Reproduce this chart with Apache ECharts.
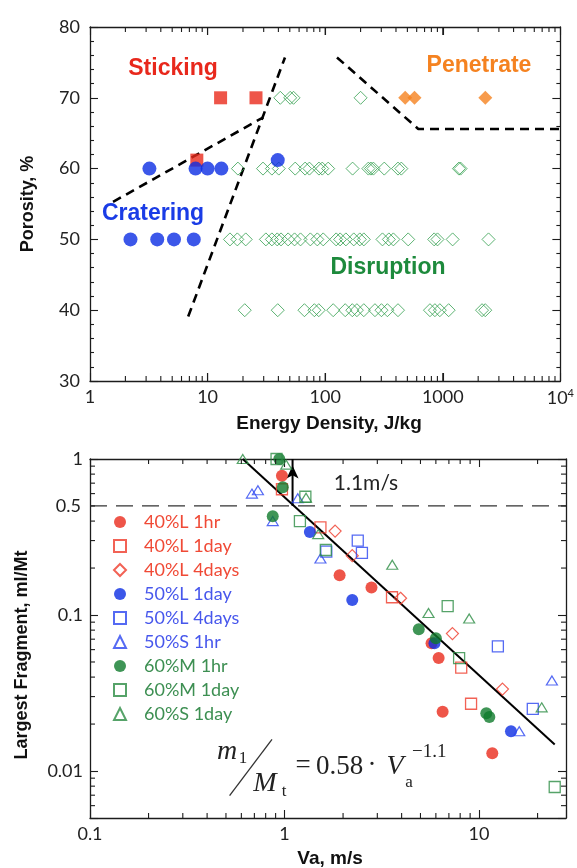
<!DOCTYPE html>
<html>
<head>
<meta charset="utf-8">
<script src="https://cdn.jsdelivr.net/npm/echarts@6/dist/echarts.min.js"></script>
<style>
  html, body { margin: 0; padding: 0; background: #ffffff; }
  #chart { width: 577px; height: 868px; }
</style>
</head>
<body>
<div id="chart"></div>
<script>
// ---------- Upper panel: porosity (%) against energy density (J/kg) ----------
const stickingPts  = [[12.9, 70], [25.8, 70], [8.1, 61.2]];
const crateringPts = [[3.2, 60], [7.9, 60], [10.0, 60], [13.1, 60], [39.5, 61.2],
                      [2.21, 50], [3.73, 50], [5.18, 50], [7.63, 50]];
const penetratePts = [[479, 70], [575, 70], [2300, 70]];
// Disruption runs, one list of energy densities per porosity level
const disrupt70 = [41.5, 50.4, 53.8, 200];
const disrupt60 = [18.1, 29.6, 35.2, 40.3, 55.6, 67.5, 73.4, 88.5, 94.4, 106, 171, 233, 245, 257,
                   318, 416, 444, 1371, 1417];
const disrupt50 = [15.5, 17.9, 21.1, 31.3, 35.2, 39.1, 42.1, 48.4, 54.9, 61.7, 74.8, 85.7, 96.2,
                   124, 134, 150, 175, 197, 213, 307, 348, 380, 508, 845, 902, 1213, 2449];
const disrupt40 = [20.7, 39.5, 66.6, 80.9, 88.2, 117, 148, 170, 186, 213, 265, 301, 338, 416,
                   778, 857, 944, 1122, 2157, 2297];
// Regime boundaries (dashed)
const boundaryCratering = [[1.57, 55.3], [29.8, 67.25]];
const boundarySticking  = [[6.84, 39.1], [45.5, 75.7]];
const boundaryPenetrate = [[126, 75.7], [619, 65.6], [10000, 65.6]];
const porosityTicks = [30, 40, 50, 60, 70, 80];

// ---------- Lower panel: largest fragment ratio against velocity ----------
const seriesNames = ['40%L 1hr', '40%L 1day', '40%L 4days', '50%L 1day', '50%L 4days',
                     '50%S 1hr', '60%M 1hr', '60%M 1day', '60%S 1day'];
const red40L1hr    = [[0.97, 0.78], [1.92, 0.18], [2.8, 0.15], [5.7, 0.066], [6.2, 0.053], [6.5, 0.024], [11.7, 0.013]];
const red40L1day   = [[0.97, 0.64], [1.53, 0.365], [3.57, 0.13], [8.1, 0.046], [9.1, 0.027]];
const red40L4days  = [[1.82, 0.345], [2.23, 0.24], [3.95, 0.128], [7.3, 0.076], [13.2, 0.0335]];
const blue50L1day  = [[1.35, 0.34], [2.23, 0.125], [5.9, 0.066], [14.6, 0.018]];
const blue50L4days = [[1.64, 0.255], [2.38, 0.30], [2.5, 0.25], [12.5, 0.063], [18.9, 0.025]];
const blue50S1hr   = [[0.68, 0.60], [0.73, 0.63], [1.17, 0.56], [0.87, 0.40], [1.53, 0.23], [16.1, 0.018], [23.7, 0.038]];
const green60M1hr  = [[0.94, 1.0], [0.98, 0.66], [0.87, 0.43], [4.9, 0.081], [6.0, 0.071], [10.9, 0.0235], [11.3, 0.0222]];
const green60M1day = [[0.91, 1.0], [1.28, 0.573], [1.2, 0.40], [1.63, 0.261], [6.9, 0.114], [7.9, 0.053], [24.5, 0.0079]];
const green60S1day = [[0.61, 1.0], [1.02, 0.92], [1.29, 0.565], [1.49, 0.33], [3.58, 0.21], [5.5, 0.103], [8.9, 0.095], [21, 0.0256]];
const fitLine      = [[0.61, 1.0], [24.5, 0.0148]];
const thresholdVa  = 1.1;     // arrow position, m/s
const halfLevel    = 0.5;     // dashed reference level

// ---------- Log-axis tick positions ----------
const energyMinor = [];
for (let d = 0; d < 4; d++) for (let k = 2; k <= 9; k++) energyMinor.push(+(k * Math.pow(10, d)).toPrecision(3));
const energyMajor = [10, 100, 1000];
const vaMinor = [];
for (let d = -1; d <= 1; d++) for (let k = 2; k <= 9; k++) { const v = +(k * Math.pow(10, d)).toPrecision(3); if (v < 28) vaMinor.push(v); }
const fragMinor = [];
for (let d = -3; d <= -1; d++) for (let k = 2; k <= 9; k++) { const v = +(k * Math.pow(10, d)).toPrecision(3); if (v > 0.005) fragMinor.push(v); }

const AXIS = '#1c1c1c';
const LABEL_FONT = 'Lato';
const TITLE_FONT = '"Liberation Sans", Arial, sans-serif';
const SERIF = '"Liberation Serif", "Times New Roman", serif';

function powerLabel(v) {
  const l = Math.log10(v);
  if (Math.abs(l - Math.round(l)) > 1e-6) return '';
  const p = Math.round(l);
  if (p === 4) return '{b|10}{s|4}';
  return String(+Math.pow(10, p).toPrecision(1));
}

// Inward ticks drawn on both opposite sides of a frame
function tickRenderer(dir, len) {
  return function (params, api) {
    const cs = params.coordSys;
    const pt = api.coord([api.value(0), api.value(1)]);
    const st = { stroke: AXIS, lineWidth: 1.1 };
    if (dir === 'x') {
      const x = pt[0], yb = cs.y + cs.height, yt = cs.y;
      return { type: 'group', children: [
        { type: 'line', shape: { x1: x, y1: yb, x2: x, y2: yb - len }, style: st },
        { type: 'line', shape: { x1: x, y1: yt, x2: x, y2: yt + len }, style: st }
      ]};
    }
    const y = pt[1], xl = cs.x, xr = cs.x + cs.width;
    return { type: 'group', children: [
      { type: 'line', shape: { x1: xl, y1: y, x2: xl + len, y2: y }, style: st },
      { type: 'line', shape: { x1: xr, y1: y, x2: xr - len, y2: y }, style: st }
    ]};
  };
}
function tickSeries(xi, yi, dir, len, data) {
  return { type: 'custom', xAxisIndex: xi, yAxisIndex: yi, silent: true, clip: false, z: 8,
           renderItem: tickRenderer(dir, len), data: data };
}

function logAxis(grid, pos, min, max, showLabels, split) {
  return {
    type: 'log', logBase: 10, gridIndex: grid, position: pos, min: min, max: max, splitNumber: split,
    axisLine: { show: true, onZero: false, lineStyle: { color: AXIS, width: 1.3 } },
    axisTick: { show: true, inside: true, length: 8, lineStyle: { color: AXIS, width: 1.1 } },
    minorTick: { show: false },
    splitLine: { show: false },
    axisLabel: {
      show: showLabels, formatter: powerLabel, color: '#222', fontFamily: LABEL_FONT, fontSize: 18,
      margin: 7, showMinLabel: true, showMaxLabel: true, hideOverlap: false,
      rich: {
        b: { fontFamily: LABEL_FONT, fontSize: 18, color: '#222' },
        s: { fontFamily: LABEL_FONT, fontSize: 11, color: '#222', padding: [0, 0, 9, 0] }
      }
    }
  };
}

function porosityAxis(pos, showLabels) {
  return {
    type: 'value', gridIndex: 0, position: pos, min: 30, max: 80, interval: 10,
    axisLine: { show: true, onZero: false, lineStyle: { color: AXIS, width: 1.3 } },
    axisTick: { show: true, inside: true, length: 8, lineStyle: { color: AXIS, width: 1.1 } },
    minorTick: { show: true, splitNumber: 5, length: 4, lineStyle: { color: AXIS, width: 1.1 } },
    splitLine: { show: false },
    axisLabel: { show: showLabels, color: '#222', fontFamily: LABEL_FONT, fontSize: 18, margin: 10,
                 formatter: v => porosityTicks.indexOf(v) >= 0 ? String(v) : '' }
  };
}

const hollow = (c, w) => ({ color: 'rgba(0,0,0,0)', borderColor: c, borderWidth: w });

function fragSeries(name, data, symbol, size, style) {
  return { name: name, type: 'scatter', xAxisIndex: 2, yAxisIndex: 2, data: data, symbol: symbol,
           symbolSize: size, itemStyle: style, clip: false, z: 5 };
}

const RED = '#ea2a1c', RED_OPEN = '#ef3b2a';
const BLUE = '#0b2de4', BLUE_OPEN = '#2a45f0';
const GREEN = '#0f7a2c', GREEN_OPEN = '#2c8c44';

const disruptData = [].concat(
  disrupt70.map(e => [e, 70]), disrupt60.map(e => [e, 60]),
  disrupt50.map(e => [e, 50]), disrupt40.map(e => [e, 40]));

const dashed = (data) => ({
  type: 'line', xAxisIndex: 0, yAxisIndex: 0, data: data, symbol: 'none', silent: true, z: 3,
  lineStyle: { color: '#000', width: 2.6, type: [9, 6] }
});

function txt(x, y, text, font, fill, align, rotation) {
  return { type: 'text', x: x, y: y, rotation: rotation || 0, silent: true, z: 20,
    style: { text: text, font: font, fill: fill, align: align || 'center', verticalAlign: 'middle',
             textAlign: align || 'center', textVerticalAlign: 'middle' } };
}

const option = {
  animation: false,
  backgroundColor: '#ffffff',
  grid: [
    { left: 90, right: 10, top: 27, height: 354 },
    { left: 90, right: 11, top: 459, height: 359 }
  ],
  xAxis: [
    logAxis(0, 'bottom', 1, 10000, true, 4),
    logAxis(0, 'top', 1, 10000, false, 4),
    logAxis(1, 'bottom', 0.1, 28, true, 2),
    logAxis(1, 'top', 0.1, 28, false, 2)
  ],
  yAxis: [
    porosityAxis('left', true),
    porosityAxis('right', false),
    logAxis(1, 'left', 0.005, 1, true, 2),
    logAxis(1, 'right', 0.005, 1, false, 2)
  ],
  legend: {
    data: seriesNames.map((n, i) => ({ name: n, textStyle: { color: ['#f04a36', '#f04a36', '#f04a36',
      '#4757ec', '#4757ec', '#4757ec', '#3d8f52', '#3d8f52', '#3d8f52'][i] } })),
    orient: 'vertical', left: 108, top: 508, itemWidth: 12, itemHeight: 12, itemGap: 6,
    selectedMode: false,
    textStyle: { fontFamily: LABEL_FONT, fontSize: 18, padding: [0, 0, 0, 13] }
  },
  series: [
    // frame ticks on log scales
    tickSeries(0, 0, 'x', 5, energyMinor.map(v => [v, 50])),
    tickSeries(0, 0, 'x', 8, energyMajor.map(v => [v, 50])),
    tickSeries(2, 2, 'x', 5, vaMinor.map(v => [v, 0.1])),
    tickSeries(2, 2, 'y', 5, fragMinor.map(v => [1, v])),

    // upper panel
    dashed(boundaryCratering),
    dashed(boundarySticking),
    dashed(boundaryPenetrate),
    { type: 'scatter', xAxisIndex: 0, yAxisIndex: 0, data: disruptData, symbol: 'diamond',
      symbolSize: 13, itemStyle: hollow('#34a050', 1), z: 4 },
    { type: 'scatter', xAxisIndex: 0, yAxisIndex: 0, data: stickingPts, symbol: 'rect',
      symbolSize: 13, itemStyle: { color: RED }, z: 5 },
    { type: 'scatter', xAxisIndex: 0, yAxisIndex: 0, data: crateringPts, symbol: 'circle',
      symbolSize: 14, itemStyle: { color: BLUE }, z: 6 },
    { type: 'scatter', xAxisIndex: 0, yAxisIndex: 0, data: penetratePts, symbol: 'diamond',
      symbolSize: 14, itemStyle: { color: '#f5821f' }, z: 5 },

    // lower panel
    { type: 'line', xAxisIndex: 2, yAxisIndex: 2, data: [[0.1, halfLevel], [28, halfLevel]],
      symbol: 'none', silent: true, z: 2, lineStyle: { color: '#333', width: 1.2, type: [17, 9] } },
    { type: 'line', xAxisIndex: 2, yAxisIndex: 2, data: fitLine, symbol: 'none', silent: true, z: 3,
      lineStyle: { color: '#000', width: 2 } },
    { type: 'line', xAxisIndex: 2, yAxisIndex: 2, silent: true, z: 4, clip: false,
      data: [{ value: [thresholdVa, halfLevel], symbol: 'none' },
             { value: [thresholdVa, 1.0], symbol: 'arrow', symbolSize: [9, 13], symbolOffset: [0, '50%'] }],
      itemStyle: { color: '#000' }, lineStyle: { color: '#000', width: 2 } },
    fragSeries(seriesNames[0], red40L1hr, 'circle', 12, { color: RED }),
    fragSeries(seriesNames[1], red40L1day, 'rect', 11, hollow(RED_OPEN, 1.3)),
    fragSeries(seriesNames[2], red40L4days, 'diamond', 12, hollow(RED_OPEN, 1.2)),
    fragSeries(seriesNames[3], blue50L1day, 'circle', 12, { color: BLUE }),
    fragSeries(seriesNames[4], blue50L4days, 'rect', 11, hollow(BLUE_OPEN, 1.3)),
    fragSeries(seriesNames[5], blue50S1hr, 'triangle', [11, 9], hollow(BLUE_OPEN, 1.2)),
    fragSeries(seriesNames[6], green60M1hr, 'circle', 12, { color: GREEN }),
    fragSeries(seriesNames[7], green60M1day, 'rect', 11, hollow(GREEN_OPEN, 1.3)),
    fragSeries(seriesNames[8], green60S1day, 'triangle', [11, 9], hollow(GREEN_OPEN, 1.2))
  ],
  graphic: [
    // upper panel regime names
    txt(173, 69, 'Sticking', 'bold 23px ' + TITLE_FONT, '#e8281c'),
    txt(479, 66, 'Penetrate', 'bold 23px ' + TITLE_FONT, '#f58220'),
    txt(153, 214, 'Cratering', 'bold 23px ' + TITLE_FONT, '#1a3ce6'),
    txt(388, 268, 'Disruption', 'bold 23px ' + TITLE_FONT, '#1d8a3c'),
    // axis titles
    txt(28, 204, 'Porosity, %', 'bold 18px ' + TITLE_FONT, '#111', 'center', Math.PI / 2),
    txt(329, 424, 'Energy Density, J/kg', 'bold 19px ' + TITLE_FONT, '#111'),
    txt(22, 655, 'Largest Fragment, ml/Mt', 'bold 18px ' + TITLE_FONT, '#111', 'center', Math.PI / 2),
    txt(330, 859, 'Va, m/s', 'bold 19px ' + TITLE_FONT, '#111'),
    // extra y label for the dashed level
    txt(81, 506, '0.5', '18px ' + LABEL_FONT, '#222', 'right'),
    // arrow annotation
    txt(366, 483, '1.1m/s', '21px ' + LABEL_FONT, '#222'),
    // fit equation
    txt(227, 752, 'm', 'italic 28px ' + SERIF, '#222'),
    txt(243, 759, '1', '17px ' + SERIF, '#222'),
    { type: 'line', silent: true, z: 20, shape: { x1: 229.6, y1: 795.7, x2: 272, y2: 739.3 },
      style: { stroke: '#333', lineWidth: 1.3 } },
    txt(265, 784, 'M', 'italic 28px ' + SERIF, '#222'),
    txt(284, 792, 't', '17px ' + SERIF, '#222'),
    txt(303, 766, '=', '27px ' + SERIF, '#222'),
    txt(316, 767, '0.58', '27px ' + SERIF, '#222', 'left'),
    txt(372, 766, '\u00b7', '27px ' + SERIF, '#222'),
    txt(395, 767, 'V', 'italic 28px ' + SERIF, '#222'),
    txt(409, 783, 'a', '17px ' + SERIF, '#222'),
    txt(412, 752, '\u22121.1', '19px ' + SERIF, '#222', 'left')
  ]
};

const chart = echarts.init(document.getElementById('chart'));
chart.setOption(option);
</script>
</body>
</html>
